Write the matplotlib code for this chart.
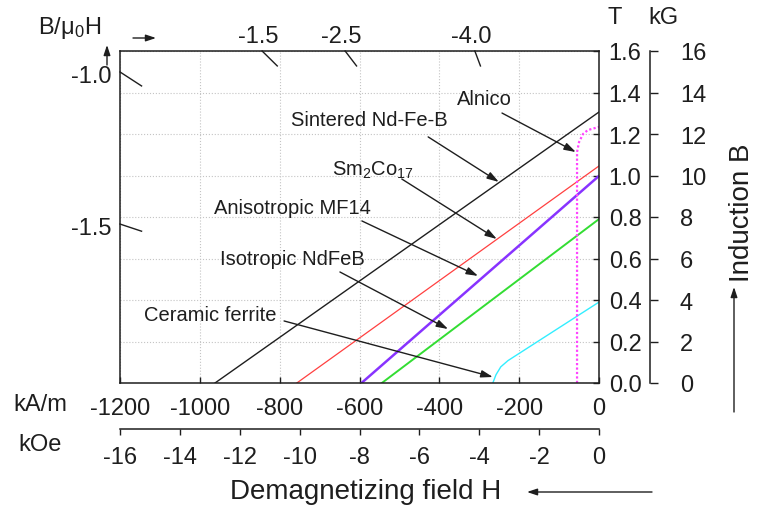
import matplotlib
matplotlib.use("Agg")
import matplotlib.pyplot as plt

plt.rcParams['font.family'] = ['Liberation Sans', 'DejaVu Sans']
plt.rcParams['mathtext.fontset'] = 'custom'
plt.rcParams['mathtext.rm'] = 'Liberation Sans'
plt.rcParams['mathtext.it'] = 'Liberation Sans:italic'
plt.rcParams['axes.unicode_minus'] = False

# ---- demagnetization curves (H in kA/m, B in T) --------------------------
ndfeb_H = [-962, 0]
ndfeb_B = [0.0, 1.306]
smco_H = [-757, 0]
smco_B = [0.0, 1.046]
mf14_H = [-595, 0]
mf14_B = [0.0, 0.998]
iso_H = [-544, 0]
iso_B = [0.0, 0.79]
ferrite_H = [-266, -258, -246, -228, 0]
ferrite_B = [0.0, 0.04, 0.078, 0.108, 0.39]
alnico_H = [-55, -55, -50, -40, -28, 0]
alnico_B = [0.0, 1.113, 1.161, 1.20, 1.219, 1.234]

# ---- axis ticks -----------------------------------------------------------
H_ticks = [-1200, -1000, -800, -600, -400, -200, 0]
kOe_ticks = [-16, -14, -12, -10, -8, -6, -4, -2, 0]
T_ticks = [0.0, 0.2, 0.4, 0.6, 0.8, 1.0, 1.2, 1.4, 1.6]
kG_ticks = [0, 2, 4, 6, 8, 10, 12, 14, 16]

# permeance (B/mu0H) marks where those lines meet the frame
perm_left_B = [1.499, 0.766]
perm_left_lab = ['-1.0', '-1.5']
perm_top_H = [-844, -636, -311]
perm_top_lab = ['-1.5', '-2.5', '-4.0']

# labels: text, text position, arrow start, arrow tip (data coords)
labels = [
    ('Alnico', (-286, 1.369), (-243, 1.301), (-58, 1.113)),
    ('Sintered Nd-Fe-B', (-576, 1.272), (-428, 1.186), (-251, 0.969)),
    ('Sm$_2$Co$_{17}$', (-566, 1.031), (-494, 0.983), (-256, 0.694)),
    ('Anisotropic MF14', (-769, 0.848), (-594, 0.781), (-303, 0.516)),
    ('Isotropic NdFeB', (-767, 0.598), (-649, 0.535), (-378, 0.260)),
    ('Ceramic ferrite', (-975, 0.328), (-789, 0.299), (-266, 0.029)),
]

W, Hpx = 757, 510
ink = '#1e1e1e'
TS = 17      # tick label size
LS = 14.5    # curve label size
AS = 20      # axis title size


def fp(x, y):
    # pixel (from top-left) -> figure fraction
    return x / W, 1 - y / Hpx


fig = plt.figure(figsize=(W / 100, Hpx / 100), dpi=100)
ax = fig.add_axes([120 / W, 126 / Hpx, 479 / W, 332 / Hpx])

ax.plot(ndfeb_H, ndfeb_B, color=ink, lw=1.0)
ax.plot(smco_H, smco_B, color='#ff4040', lw=0.9)
ax.plot(mf14_H, mf14_B, color='#8833ff', lw=1.8)
ax.plot(iso_H, iso_B, color='#33dd33', lw=1.4)
ax.plot(ferrite_H, ferrite_B, color='#33eeff', lw=1.0)
ax.plot(alnico_H, alnico_B, color='#ff44ff', lw=1.6, ls=(0, (1, 1)))

ax.set_xlim(-1200, 0)
ax.set_ylim(0, 1.6)
ax.set_xticks(H_ticks)
ax.set_xticklabels([str(v) for v in H_ticks])
ax.yaxis.tick_right()
ax.set_yticks(T_ticks)
ax.set_yticklabels(['%.1f' % v for v in T_ticks])
ax.tick_params(axis='x', direction='in', length=4.5, width=1, labelsize=TS,
               pad=10, colors=ink)
ax.tick_params(axis='y', direction='in', length=4.5, width=1, labelsize=TS,
               pad=7, colors=ink, left=False)
ax.grid(True, ls=':', color='#c4c4c4', lw=0.8)
for s in ax.spines.values():
    s.set_linewidth(1.1)
    s.set_color(ink)

# permeance marks
f = 0.045
for b, lab in zip(perm_left_B, perm_left_lab):
    ax.plot([-1200, -1200 * (1 - f)], [b, b * (1 - f)], color=ink, lw=1.0,
            clip_on=False)
    ax.annotate(lab, (-1200, b), xytext=(-8, -4), textcoords='offset pixels',
                ha='right', va='center', fontsize=TS, color=ink)
for h, lab in zip(perm_top_H, perm_top_lab):
    ax.plot([h, h * (1 - f)], [1.6, 1.6 * (1 - f)], color=ink, lw=1.0,
            clip_on=False)
    ax.annotate(lab, (h, 1.6), xytext=(-4, 15), textcoords='offset pixels',
                ha='center', va='center', fontsize=TS, color=ink)

# curve labels with arrows
for txt, pos, start, tip in labels:
    ax.text(pos[0], pos[1], txt, ha='center', va='center', fontsize=LS,
            color=ink)
    ax.annotate('', xy=tip, xytext=start,
                arrowprops=dict(arrowstyle='-|>,head_length=0.7,head_width=0.22',
                                color=ink, lw=1.0, shrinkA=0, shrinkB=0))

# kOe axis
axk = fig.add_axes([120 / W, (Hpx - 430) / Hpx, 479 / W, 0.0001])
axk.set_xlim(-16, 0)
axk.set_xticks(kOe_ticks)
axk.set_xticklabels([str(v) for v in kOe_ticks])
axk.set_yticks([])
axk.patch.set_visible(False)
for k in ('top', 'left', 'right'):
    axk.spines[k].set_visible(False)
axk.spines['bottom'].set_linewidth(1.1)
axk.spines['bottom'].set_color(ink)
axk.tick_params(axis='x', direction='out', length=4, width=1, labelsize=TS,
                pad=8, colors=ink)

# kG axis
axg = fig.add_axes([650 / W, 126 / Hpx, 0.0001, 332 / Hpx])
axg.set_ylim(0, 16)
axg.yaxis.tick_right()
axg.set_yticks(kG_ticks)
axg.set_yticklabels([str(v) for v in kG_ticks])
axg.set_xticks([])
axg.patch.set_visible(False)
for k in ('top', 'left', 'bottom'):
    axg.spines[k].set_visible(False)
axg.spines['right'].set_linewidth(1.1)
axg.spines['right'].set_color(ink)
axg.tick_params(axis='y', direction='out', length=5.5, width=1, labelsize=TS,
                pad=16, colors=ink)

# unit / axis labels
fig.text(*fp(70, 28), 'B/\u03bc$_0$H', ha='center', va='center', fontsize=TS,
         color=ink)
fig.text(*fp(615, 18), 'T', ha='center', va='center', fontsize=TS, color=ink)
fig.text(*fp(663, 18), 'kG', ha='center', va='center', fontsize=TS, color=ink)
fig.text(*fp(40, 405), 'kA/m', ha='center', va='center', fontsize=TS, color=ink)
fig.text(*fp(40, 445), 'kOe', ha='center', va='center', fontsize=TS, color=ink)
fig.text(*fp(366, 492), 'Demagnetizing field H', ha='center', va='center',
         fontsize=AS, color=ink)
fig.text(*fp(742, 213), 'Induction B', ha='center', va='center', fontsize=AS,
         rotation=90, color=ink)

arr = dict(arrowstyle='-|>,head_length=0.6,head_width=0.2', color=ink, lw=1.0,
           shrinkA=0, shrinkB=0)
fig.add_artist(matplotlib.patches.FancyArrowPatch(fp(133, 39), fp(156, 39),
               transform=fig.transFigure, mutation_scale=10, **arr))
fig.add_artist(matplotlib.patches.FancyArrowPatch(fp(107, 66), fp(107, 46),
               transform=fig.transFigure, mutation_scale=10, **arr))
fig.add_artist(matplotlib.patches.FancyArrowPatch(fp(652, 493), fp(527, 493),
               transform=fig.transFigure, mutation_scale=10, **arr))
fig.add_artist(matplotlib.patches.FancyArrowPatch(fp(734, 413), fp(734, 288),
               transform=fig.transFigure, mutation_scale=10, **arr))

fig.savefig('out.png', dpi=100)
